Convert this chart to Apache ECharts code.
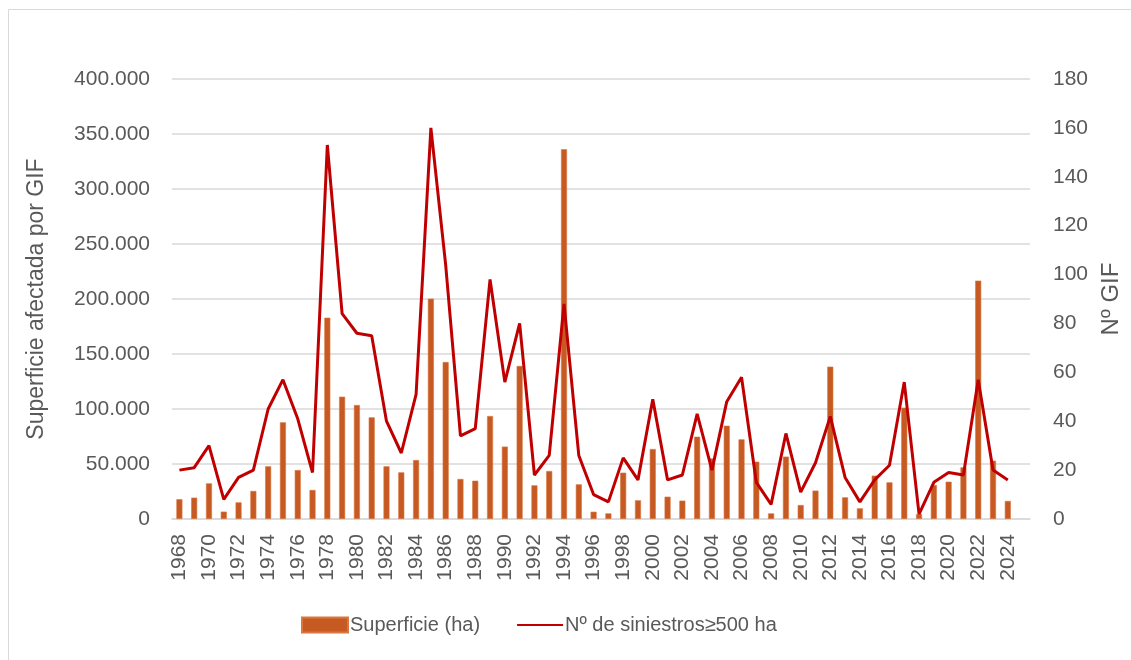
<!DOCTYPE html>
<html>
<head>
<meta charset="utf-8">
<title>Superficie afectada por GIF</title>
<script src="https://cdn.jsdelivr.net/npm/echarts@6/dist/echarts.min.js"></script>
<style>
  html, body { margin: 0; padding: 0; background: #fff; }
  #chart { width: 1131px; height: 660px; }
</style>
</head>
<body>
<div id="chart"></div>
<script>
// años (la última categoría queda vacía, como en el original)
const years = [
  '1968','1969','1970','1971','1972','1973','1974','1975','1976','1977',
  '1978','1979','1980','1981','1982','1983','1984','1985','1986','1987',
  '1988','1989','1990','1991','1992','1993','1994','1995','1996','1997',
  '1998','1999','2000','2001','2002','2003','2004','2005','2006','2007',
  '2008','2009','2010','2011','2012','2013','2014','2015','2016','2017',
  '2018','2019','2020','2021','2022','2023','2024',''
];

// superficie afectada (ha)
const superficie = [
  18000, 19400, 32400, 6700, 15100, 25500, 47900, 87900, 44500, 26400,
  183000, 111200, 103600, 92400, 47900, 42400, 53600, 200300, 142700, 36400,
  34800, 93600, 65800, 139100, 30600, 43600, 336100, 31500, 6600, 5100,
  42100, 17000, 63600, 20300, 16700, 74800, 55000, 84800, 72400, 52100,
  5100, 56700, 12700, 25800, 138500, 19700, 9700, 39400, 33300, 101200,
  4500, 30900, 33900, 47000, 216700, 53000, 16400, null
];

// nº de siniestros >= 500 ha
const siniestros = [
  20, 21, 30, 8, 17, 20, 45, 57, 41, 19,
  153, 84, 76, 75, 40, 27, 51, 160, 104, 34,
  37, 98, 56, 80, 18, 26, 88, 26, 10, 7,
  25, 16, 49, 16, 18, 43, 20, 48, 58, 15,
  6, 35, 11, 23, 42, 17, 7, 16, 22, 56,
  2, 15, 19, 18, 57, 20, 16, null
];

const leftTicks = { min: 0, max: 400000, interval: 50000 };
const rightTicks = { min: 0, max: 180, interval: 20 };

const font = '"Liberation Sans", Arial, sans-serif';
const gray = '#595959';

function miles(v) {
  return String(v).replace(/\B(?=(\d{3})+(?!\d))/g, '.');
}

const myChart = echarts.init(document.getElementById('chart'));
myChart.setOption({
  animation: false,
  textStyle: { fontFamily: font },
  graphic: [{
    type: 'rect',
    shape: { x: 8.5, y: 9.5, width: 1200, height: 700 },
    style: { fill: 'none', stroke: '#D9D9D9', lineWidth: 1 },
    silent: true
  }],
  grid: { left: 172, right: 101, top: 79, bottom: 141 },
  legend: {
    bottom: 20,
    left: 296,
    itemWidth: 46,
    itemHeight: 15,
    itemGap: 36,
    textStyle: { fontFamily: font, fontSize: 20, color: gray, padding: [0, 0, 0, -3] },
    data: [
      { name: 'Superficie (ha)', icon: 'rect' },
      { name: 'Nº de siniestros≥500 ha', itemStyle: { opacity: 0 } }
    ]
  },
  xAxis: {
    type: 'category',
    data: years,
    axisLine: { lineStyle: { color: '#D9D9D9', width: 1.5 } },
    axisTick: { show: false },
    axisLabel: {
      rotate: 90,
      interval: 1,
      margin: 15,
      fontSize: 21,
      color: gray,
      fontFamily: font
    }
  },
  yAxis: [
    {
      type: 'value',
      ...leftTicks,
      name: 'Superficie afectada por GIF',
      nameLocation: 'middle',
      nameGap: 124,
      nameTextStyle: { fontSize: 23, color: gray, fontFamily: font },
      axisLine: { show: false },
      axisTick: { show: false },
      axisLabel: { formatter: miles, fontSize: 21, color: gray, margin: 22, fontFamily: font },
      splitLine: { lineStyle: { color: '#D9D9D9', width: 1.5 } }
    },
    {
      type: 'value',
      ...rightTicks,
      position: 'right',
      name: 'Nº GIF',
      nameLocation: 'middle',
      nameGap: 68,
      nameRotate: 90,
      nameTextStyle: { fontSize: 24, color: gray, fontFamily: font },
      axisLine: { show: false },
      axisTick: { show: false },
      axisLabel: { fontSize: 21, color: gray, margin: 23, fontFamily: font },
      splitLine: { show: false }
    }
  ],
  series: [
    {
      name: 'Superficie (ha)',
      type: 'bar',
      yAxisIndex: 0,
      data: superficie,
      barWidth: 6,
      itemStyle: { color: '#C65A22', borderColor: '#D9773F', borderWidth: 0.6 }
    },
    {
      name: 'Nº de siniestros≥500 ha',
      type: 'line',
      yAxisIndex: 1,
      data: siniestros,
      symbol: 'none',
      lineStyle: { color: '#C00000', width: 3 },
      itemStyle: { color: '#C00000' }
    }
  ]
});
</script>
</body>
</html>
